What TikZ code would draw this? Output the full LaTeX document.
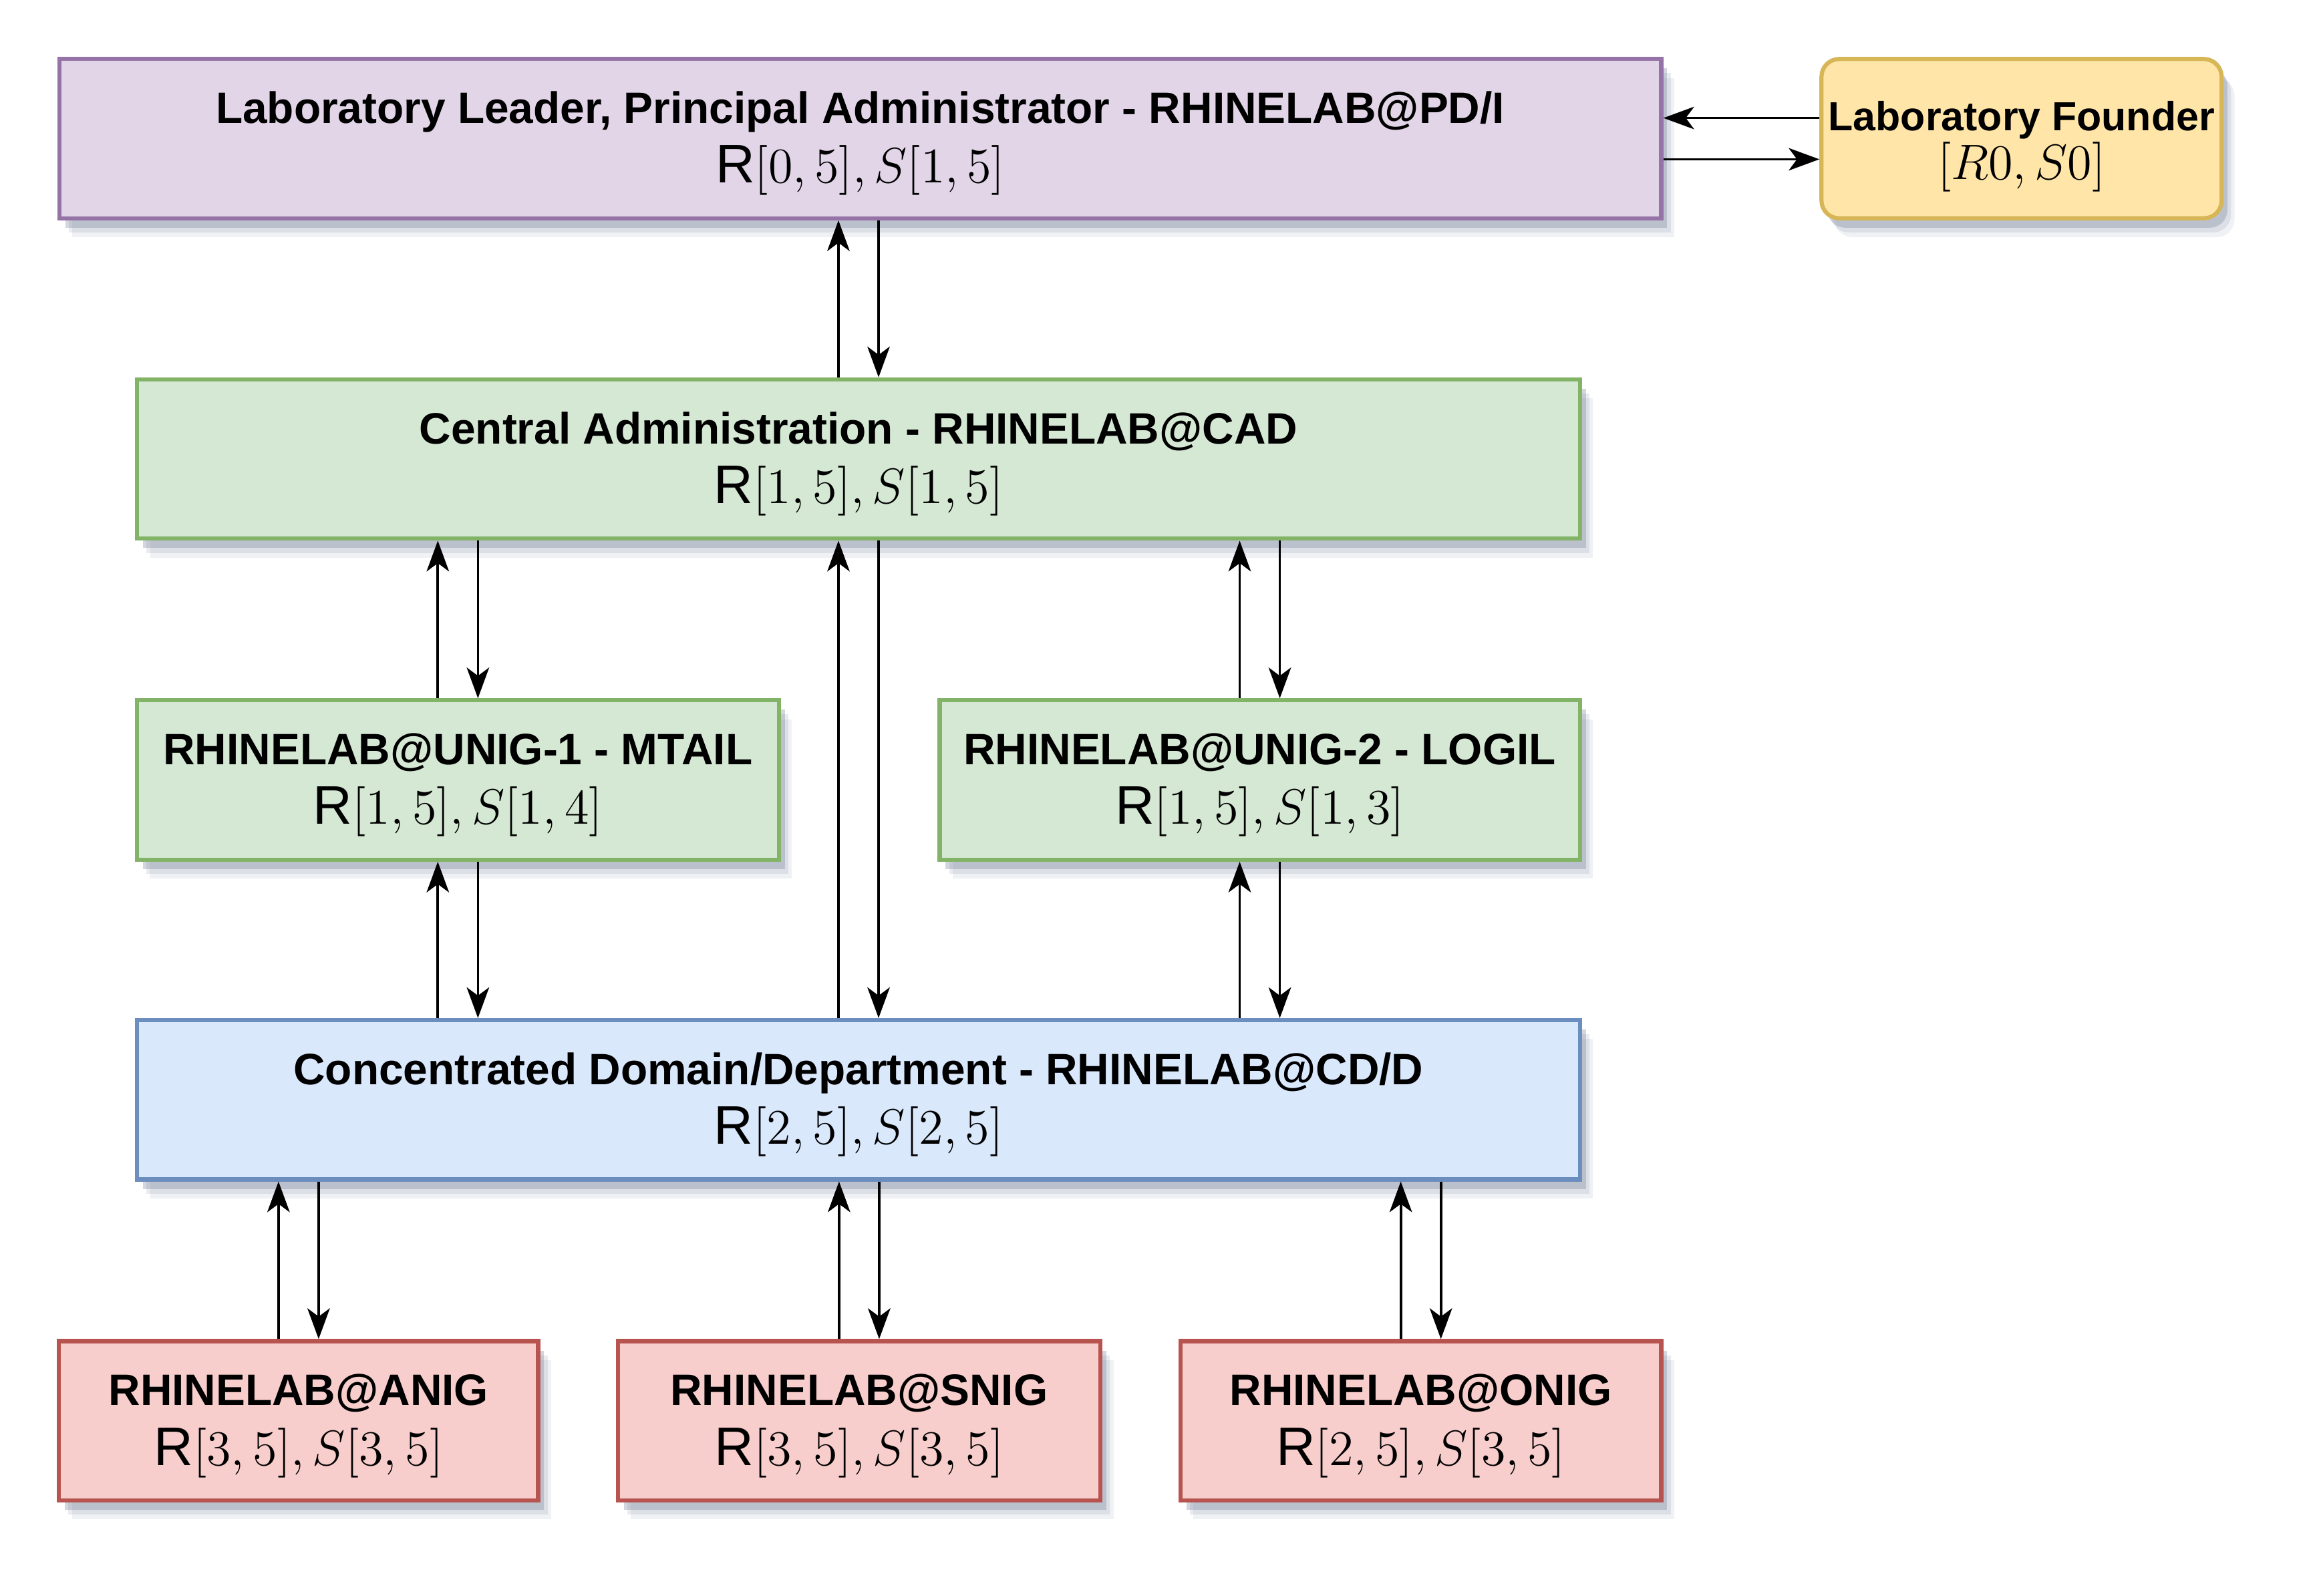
\documentclass[tikz,border=0pt]{standalone}
\usepackage[no-math]{fontspec}
\setmainfont{Liberation Sans}
\usepackage{amsmath,amssymb}
\usetikzlibrary{arrows.meta,shadows}

\definecolor{leadfill}{HTML}{E1D5E7}
\definecolor{leaddraw}{HTML}{9673A6}
\definecolor{foundfill}{HTML}{FFE6A8}
\definecolor{founddraw}{HTML}{D6B656}
\definecolor{unitfill}{HTML}{D5E8D4}
\definecolor{unitdraw}{HTML}{82B366}
\definecolor{deptfill}{HTML}{DAE8FC}
\definecolor{deptdraw}{HTML}{6C8EBF}
\definecolor{nigfill}{HTML}{F8CECC}
\definecolor{nigdraw}{HTML}{B85450}
\definecolor{shadecol}{HTML}{6E7894}

\tikzset{
  box/.style={draw, line width=1pt, align=center, inner sep=0pt,
    minimum height=13.5mm, font=\fontsize{10.6}{14.4}\selectfont,
    drop shadow={shadow xshift=1.1mm, shadow yshift=-1.6mm, fill=shadecol, opacity=0.1},
    drop shadow={shadow xshift=0.8mm, shadow yshift=-1.2mm, fill=shadecol, opacity=0.15},
    drop shadow={shadow xshift=0.5mm, shadow yshift=-0.8mm, fill=shadecol, opacity=0.3}},
  leadbox/.style={box, fill=leadfill, draw=leaddraw},
  foundbox/.style={box, fill=foundfill, draw=founddraw, rounded corners=1.5mm,
    font=\fontsize{9.8}{13.6}\selectfont},
  unitbox/.style={box, fill=unitfill, draw=unitdraw},
  deptbox/.style={box, fill=deptfill, draw=deptdraw},
  nigbox/.style={box, fill=nigfill, draw=nigdraw},
  link/.style={line width=0.6pt, -{Stealth[length=2.6mm, width=1.9mm, inset=0.7mm]}},
}

\newcommand{\roletext}[2]{\rule{0pt}{10pt}\textbf{#1}\\{\fontsize{13.1}{14}\selectfont R$#2$}}

\begin{document}
\begin{tikzpicture}[x=1mm,y=1mm]
        \useasboundingbox (0,0) rectangle (196,-135.25);

        % Define boxes by coordinates
        \node[leadbox, minimum width=135.75mm] (lead) at (72.9,-11.75)
          {\roletext{Laboratory Leader, Principal Administrator - RHINELAB@PD/I}{[0,5], S[1,5]}};
        \node[foundbox, minimum width=33.9mm] (found) at (171.3,-11.75)
          {\rule{0pt}{11pt}\textbf{Laboratory Founder}\\[-1.8pt]{\fontsize{12.2}{14}\selectfont $[R0, S0]$}};
        \node[unitbox, minimum width=122.25mm] (cad) at (72.75,-38.9)
          {\roletext{Central Administration - RHINELAB@CAD}{[1,5], S[1,5]}};
        \node[unitbox, minimum width=54.4mm] (unig1) at (38.8,-66.1)
          {\roletext{RHINELAB@UNIG-1 - MTAIL}{[1,5], S[1,4]}};
        \node[unitbox, minimum width=54.25mm] (unig2) at (106.75,-66.1)
          {\roletext{RHINELAB@UNIG-2 - LOGIL}{[1,5], S[1,3]}};
        \node[deptbox, minimum width=122.25mm] (cdd) at (72.75,-93.2)
          {\roletext{Concentrated Domain/Department - RHINELAB@CD/D}{[2,5], S[2,5]}};
        \node[nigbox, minimum width=40.6mm] (anig) at (25.3,-120.4)
          {\roletext{RHINELAB@ANIG}{[3,5], S[3,5]}};
        \node[nigbox, minimum width=40.9mm] (snig) at (72.8,-120.4)
          {\roletext{RHINELAB@SNIG}{[3,5], S[3,5]}};
        \node[nigbox, minimum width=40.75mm] (onig) at (120.4,-120.4)
          {\roletext{RHINELAB@ONIG}{[2,5], S[3,5]}};

        % Draw links
        \draw[link] ([yshift=1.75mm]found.west) -- ([yshift=1.75mm]found.west -| lead.east);
        \draw[link] ([yshift=-1.75mm]lead.east) -- ([yshift=-1.75mm]lead.east -| found.west);
        \draw[link] ([xshift=-1.7mm]cad.north) -- ([xshift=-1.7mm]cad.north |- lead.south);
        \draw[link] ([xshift=1.7mm]cad.north |- lead.south) -- ([xshift=1.7mm]cad.north);
        \draw[link] ([xshift=-1.7mm]unig1.north) -- ([xshift=-1.7mm]unig1.north |- cad.south);
        \draw[link] ([xshift=1.7mm]unig1.north |- cad.south) -- ([xshift=1.7mm]unig1.north);
        \draw[link] ([xshift=-1.7mm]unig2.north) -- ([xshift=-1.7mm]unig2.north |- cad.south);
        \draw[link] ([xshift=1.7mm]unig2.north |- cad.south) -- ([xshift=1.7mm]unig2.north);
        \draw[link] ([xshift=-1.7mm]unig1.south |- cdd.north) -- ([xshift=-1.7mm]unig1.south);
        \draw[link] ([xshift=1.7mm]unig1.south) -- ([xshift=1.7mm]unig1.south |- cdd.north);
        \draw[link] ([xshift=-1.7mm]unig2.south |- cdd.north) -- ([xshift=-1.7mm]unig2.south);
        \draw[link] ([xshift=1.7mm]unig2.south) -- ([xshift=1.7mm]unig2.south |- cdd.north);
        \draw[link] ([xshift=-1.7mm]cdd.north) -- ([xshift=-1.7mm]cdd.north |- cad.south);
        \draw[link] ([xshift=1.7mm]cdd.north |- cad.south) -- ([xshift=1.7mm]cdd.north);
        \draw[link] ([xshift=-1.7mm]anig.north) -- ([xshift=-1.7mm]anig.north |- cdd.south);
        \draw[link] ([xshift=1.7mm]anig.north |- cdd.south) -- ([xshift=1.7mm]anig.north);
        \draw[link] ([xshift=-1.7mm]snig.north) -- ([xshift=-1.7mm]snig.north |- cdd.south);
        \draw[link] ([xshift=1.7mm]snig.north |- cdd.south) -- ([xshift=1.7mm]snig.north);
        \draw[link] ([xshift=-1.7mm]onig.north) -- ([xshift=-1.7mm]onig.north |- cdd.south);
        \draw[link] ([xshift=1.7mm]onig.north |- cdd.south) -- ([xshift=1.7mm]onig.north);

\end{tikzpicture}
\end{document}
